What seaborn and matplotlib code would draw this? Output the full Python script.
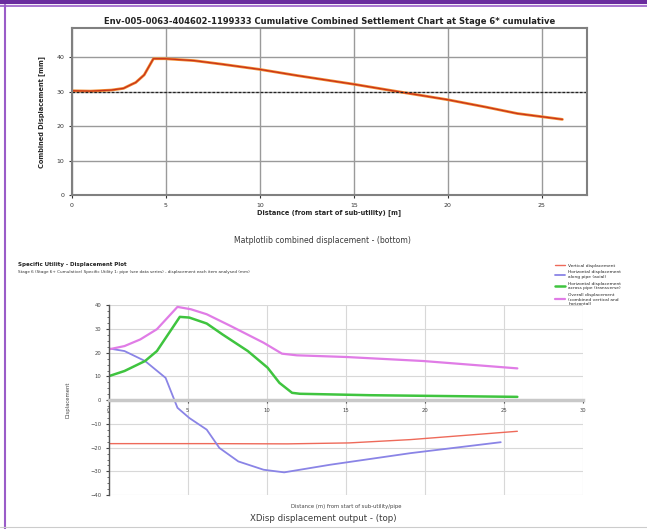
import numpy as np
import pandas as pd
import matplotlib
matplotlib.use("Agg")
import matplotlib.pyplot as plt
from matplotlib.lines import Line2D
from matplotlib.ticker import MultipleLocator, AutoMinorLocator
import seaborn as sns

sns.set_style("white")
plt.rcParams['font.family'] = ['DejaVu Sans']

# top chart: matplotlib combined settlement
top_dist = [0, 1, 2.1, 2.75, 3.2, 3.4, 3.85, 4.34, 4.96, 6.5, 8, 10, 12, 15, 17.3, 20, 22, 23.7, 26.1]
top_disp = [30.3, 30.2, 30.5, 31.0, 32.2, 32.7, 34.9, 39.6, 39.6, 39.05, 38.0, 36.5, 34.7, 32.2, 30.1, 27.7, 25.6, 23.7, 22.0]
top_ref = 30
top_xticks = [0, 5, 10, 15, 20, 25]
top_yticks = [0, 10, 20, 30, 40]

# bottom chart: XDisp output
vert_x = [0, 6.2, 11.3, 15.2, 19.1, 25.85]
vert_y = [-18.3, -18.3, -18.4, -18.0, -16.6, -13.1]
axial_x = [0, 1, 2.3, 3.6, 4.1, 4.35, 5.1, 6.2, 7.0, 8.2, 9.8, 11.1, 14, 19.1, 24.8]
axial_y = [21.8, 20.7, 16.5, 9.4, 1.0, -3.2, -7.5, -12.4, -20.1, -25.8, -29.3, -30.4, -27.2, -22.3, -17.7]
trans_x = [0, 1, 2.3, 3.05, 4.5, 5.1, 6.2, 7.2, 8.8, 10.05, 10.8, 11.6, 12.1, 16.5, 25.85]
trans_y = [10.1, 12.3, 16.5, 20.7, 35.1, 34.8, 32.3, 27.7, 20.7, 13.7, 7.3, 3.1, 2.7, 2.1, 1.4]
overall_x = [0, 1, 2, 3.05, 4.35, 5.2, 6.2, 7.7, 9.8, 10.96, 11.9, 15, 19.9, 25.85]
overall_y = [21.4, 22.8, 25.6, 29.9, 39.3, 38.3, 36.2, 31.3, 24.2, 19.6, 18.9, 18.2, 16.5, 13.4]
bot_xticks = [0, 5, 10, 15, 20, 25, 30]
bot_yticks = [-40, -30, -20, -10, 0, 10, 20, 30, 40]
legend_labels = ["Vertical displacement",
                 "Horizontal displacement\nalong pipe (axial)",
                 "Horizontal displacement\nacross pipe (transverse)",
                 "Overall displacement\n(combined vertical and\nhorizontal)"]

fig = plt.figure(figsize=(6.47, 5.29), dpi=100)

# ---- top chart
ax1 = fig.add_axes([0.111, 0.631, 0.796, 0.316])
sns.lineplot(x=top_dist, y=top_disp, ax=ax1, color="#f08a30", linewidth=2.0)
sns.lineplot(x=top_dist, y=top_disp, ax=ax1, color="#c8321a", linewidth=0.9)
ax1.axhline(top_ref, color="#222222", linestyle=(0, (2, 1.5)), linewidth=0.9)
ax1.set_xlim(0, 27.4)
ax1.set_ylim(0, 48.5)
ax1.set_xticks(top_xticks)
ax1.set_yticks(top_yticks)
ax1.grid(True, color="#9a9a9a", linewidth=1.0)
for s in ax1.spines.values():
    s.set_color("#808080")
    s.set_linewidth(1.5)
ax1.tick_params(labelsize=4.5, length=2, colors="#333333", left=True, bottom=True)
ax1.set_title("Env-005-0063-404602-1199333 Cumulative Combined Settlement Chart at Stage 6* cumulative",
              fontsize=6, fontweight="bold", color="#222222", pad=3)
ax1.set_xlabel("Distance (from start of sub-utility) [m]", fontsize=4.8, fontweight="bold", labelpad=1)
ax1.set_ylabel("Combined Displacement [mm]", fontsize=4.8, fontweight="bold", labelpad=8)

fig.text(0.499, 0.546, "Matplotlib combined displacement - (bottom)", ha="center", va="center",
         fontsize=5.6, color="#3a3a3a")

# ---- bottom chart
ax2 = fig.add_axes([0.168, 0.064, 0.733, 0.359])
sns.lineplot(x=vert_x, y=vert_y, ax=ax2, color="#ee6a5a", linewidth=1.0, label=legend_labels[0])
sns.lineplot(x=axial_x, y=axial_y, ax=ax2, color="#8a84e6", linewidth=1.3, label=legend_labels[1])
sns.lineplot(x=trans_x, y=trans_y, ax=ax2, color="#3fc43f", linewidth=1.8, label=legend_labels[2])
sns.lineplot(x=overall_x, y=overall_y, ax=ax2, color="#e07ce6", linewidth=1.6, label=legend_labels[3])
ax2.set_xlim(0, 30)
ax2.set_ylim(-40, 40)
ax2.set_xticks(bot_xticks)
ax2.set_yticks(bot_yticks)
ax2.yaxis.set_minor_locator(AutoMinorLocator(4))
ax2.grid(True, color="#d8d8d8", linewidth=0.8)
ax2.spines["top"].set_visible(False)
ax2.spines["right"].set_visible(False)
ax2.spines["bottom"].set_position(("data", 0))
ax2.spines["bottom"].set_color("#c8c8c8")
ax2.spines["bottom"].set_linewidth(2.5)
ax2.spines["left"].set_color("#555555")
ax2.spines["left"].set_linewidth(1.0)
ax2.tick_params(labelsize=3.8, length=2, colors="#444444", left=True, bottom=True)
ax2.tick_params(which="minor", length=1.2, left=True, color="#555555")
ax2.set_xlabel("Distance (m) from start of sub-utility/pipe", fontsize=3.8, color="#444444")
ax2.xaxis.set_label_coords(0.5, -0.045)
ax2.set_ylabel("Displacement", fontsize=3.8, color="#444444", labelpad=14)
ax2.legend(loc="upper left", bbox_to_anchor=(0.855, 0.505), bbox_transform=fig.transFigure,
           fontsize=3.2, frameon=False, handlelength=2.2, labelspacing=0.6, borderaxespad=0)

fig.text(0.028, 0.497, "Specific Utility - Displacement Plot", fontsize=4, fontweight="bold", color="#222222")
fig.text(0.028, 0.484, "Stage 6 (Stage 6+ Cumulative) Specific Utility 1: pipe (see data series) - displacement each item analysed (mm)",
         fontsize=3, color="#333333")

fig.text(0.5, 0.019, "XDisp displacement output - (top)", ha="center", va="center",
         fontsize=6.2, color="#3a3a3a")

# frame of the screenshot
fig.add_artist(Line2D([0, 1], [0.996, 0.996], transform=fig.transFigure, color="#6a2c9e", linewidth=3))
fig.add_artist(Line2D([0, 1], [0.988, 0.988], transform=fig.transFigure, color="#9a5cc8", linewidth=1.2))
fig.add_artist(Line2D([0.007, 0.007], [0, 0.99], transform=fig.transFigure, color="#9a5cc8", linewidth=1.5))
fig.add_artist(Line2D([0, 1], [0.004, 0.004], transform=fig.transFigure, color="#cccccc", linewidth=0.8))

fig.savefig("out.png", dpi=100)
